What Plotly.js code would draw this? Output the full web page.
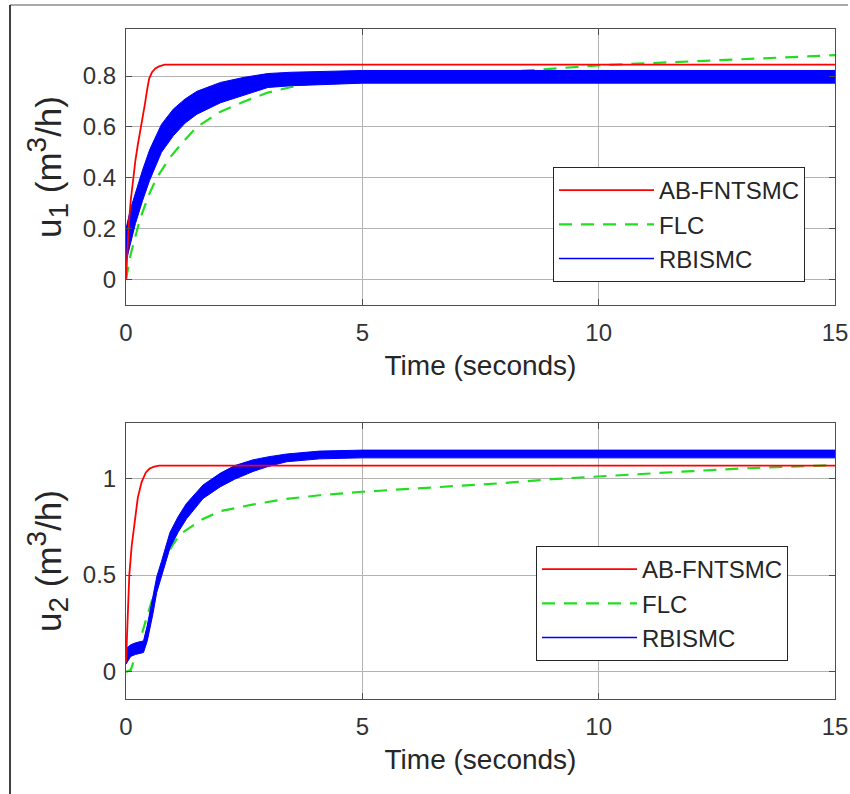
<!DOCTYPE html>
<html>
<head>
<meta charset="utf-8">
<script src="https://cdn.plot.ly/plotly-3.0.1.min.js"></script>
<style>html,body{margin:0;padding:0;background:#fff;}#chart{width:850px;height:794px;}</style>
</head>
<body>
<div id="chart"></div>
<script>
// ---------- Top panel: u1 ----------
const u1_red_t   = [0, 0.03, 0.06, 0.1, 0.15, 0.2, 0.25, 0.32, 0.4, 0.45, 0.49, 0.55, 0.62, 0.7, 0.82, 15];
const u1_red_v   = [0, 0.12, 0.22, 0.31, 0.4, 0.47, 0.53, 0.6, 0.69, 0.75, 0.79, 0.815, 0.83, 0.838, 0.845, 0.845];

const u1_flc_t   = [0, 0.1, 0.2, 0.3, 0.5, 0.65, 0.93, 1.2, 1.5, 2, 2.5, 3, 3.5, 4, 5, 7, 8.5, 10, 12.5, 15];
const u1_flc_v   = [0, 0.1, 0.17, 0.24, 0.34, 0.4, 0.48, 0.54, 0.6, 0.66, 0.70, 0.735, 0.757, 0.774, 0.785, 0.803, 0.822, 0.842, 0.862, 0.882];

const u1_rb_t    = [0, 0.1, 0.2, 0.35, 0.5, 0.75, 1.0, 1.25, 1.5, 2.0, 2.5, 3.0, 3.5, 4.0, 5, 15];
const u1_rb_lo   = [0.07, 0.15, 0.22, 0.31, 0.39, 0.5, 0.565, 0.615, 0.65, 0.695, 0.725, 0.755, 0.762, 0.767, 0.772, 0.772];
const u1_rb_hi   = [0.2, 0.28, 0.34, 0.43, 0.51, 0.61, 0.67, 0.71, 0.74, 0.775, 0.795, 0.81, 0.815, 0.818, 0.822, 0.822];

// ---------- Bottom panel: u2 ----------
const u2_red_t   = [0, 0.02, 0.04, 0.07, 0.12, 0.19, 0.25, 0.33, 0.42, 0.5, 0.6, 0.7, 15];
const u2_red_v   = [0.05, 0.2, 0.35, 0.5, 0.65, 0.8, 0.9, 0.98, 1.03, 1.05, 1.06, 1.065, 1.065];

const u2_flc_t   = [0, 0.1, 0.2, 0.3, 0.4, 0.5, 0.65, 0.86, 1.0, 1.14, 1.63, 2, 2.7, 3.4, 4.1, 5, 6, 7, 8, 9, 10, 11, 12, 13, 14, 15];
const u2_flc_v   = [0, 0.01, 0.08, 0.17, 0.25, 0.33, 0.45, 0.6, 0.66, 0.71, 0.79, 0.83, 0.865, 0.893, 0.912, 0.93, 0.945, 0.96, 0.975, 0.995, 1.01, 1.025, 1.037, 1.05, 1.06, 1.068];

const u2_rb_t    = [0, 0.1, 0.2, 0.37, 0.45, 0.57, 0.65, 0.75, 0.86, 0.93, 1.1, 1.28, 1.63, 1.99, 2.3, 2.69, 3.0, 3.4, 4.1, 5, 15];
const u2_rb_lo   = [0.04, 0.08, 0.09, 0.10, 0.16, 0.30, 0.41, 0.49, 0.58, 0.64, 0.72, 0.79, 0.895, 0.955, 0.995, 1.035, 1.06, 1.085, 1.10, 1.105, 1.105];
const u2_rb_hi   = [0.12, 0.14, 0.15, 0.16, 0.24, 0.38, 0.49, 0.57, 0.66, 0.72, 0.80, 0.87, 0.965, 1.025, 1.065, 1.095, 1.11, 1.125, 1.14, 1.145, 1.145];

const names = ['AB-FNTSMC', 'FLC', 'RBISMC'];
const xTicks = [0, 5, 10, 15];
const y1Ticks = [0, 0.2, 0.4, 0.6, 0.8];
const y2Ticks = [0, 0.5, 1];

const RED = '#ff0000', GREEN = '#22dd22', BLUE = '#0000ff';
const FONT = 'Liberation Sans, Arial, Helvetica, sans-serif';

function mid(lo, hi){ return lo.map((v,i)=> (v+hi[i])/2); }
function band(t, lo, hi){ return {x: t.concat(t.slice().reverse()), y: hi.concat(lo.slice().reverse())}; }

function panel(xa, ya, lg, redT, redV, flcT, flcV, rbT, rbLo, rbHi){
  const b = band(rbT, rbLo, rbHi);
  return [
    {x: flcT, y: flcV, xaxis: xa, yaxis: ya, legend: lg, name: names[1], legendrank: 2, mode: 'lines',
     line: {color: GREEN, width: 2.2, dash: '13px,9px'}, type: 'scatter'},
    {x: b.x, y: b.y, xaxis: xa, yaxis: ya, legend: lg, showlegend: false, mode: 'lines', fill: 'toself',
     fillcolor: BLUE, line: {color: BLUE, width: 1}, type: 'scatter', hoverinfo: 'skip'},
    {x: rbT, y: mid(rbLo, rbHi), xaxis: xa, yaxis: ya, legend: lg, name: names[2], legendrank: 3, mode: 'lines',
     line: {color: BLUE, width: 1.5}, type: 'scatter'},
    {x: redT, y: redV, xaxis: xa, yaxis: ya, legend: lg, name: names[0], legendrank: 1, mode: 'lines',
     line: {color: RED, width: 1.8}, type: 'scatter'}
  ];
}

const data = [].concat(
  panel('x', 'y', 'legend', u1_red_t, u1_red_v, u1_flc_t, u1_flc_v, u1_rb_t, u1_rb_lo, u1_rb_hi),
  panel('x2', 'y2', 'legend2', u2_red_t, u2_red_v, u2_flc_t, u2_flc_v, u2_rb_t, u2_rb_lo, u2_rb_hi)
);

const axisCommon = {
  showline: true, linecolor: '#4d4d4d', linewidth: 1, mirror: 'ticks',
  ticks: 'inside', ticklen: 6, tickcolor: '#4d4d4d',
  showgrid: true, gridcolor: '#b3b3b3', gridwidth: 1, zeroline: false,
  tickfont: {family: FONT, size: 24, color: '#333'}
};

const L = 126, R = 15, T = 29, B = 95;
const H = 794 - T - B;
const legendCommon = {
  bgcolor: '#ffffff', bordercolor: '#262626', borderwidth: 1,
  font: {family: FONT, size: 24, color: '#262626'},
  itemwidth: 95, xanchor: 'left', yanchor: 'top', traceorder: 'normal', itemclick: false
};

const yTitle1 = 'u<sub><span style="font-size:28px">1</span></sub> (m<sup><span style="font-size:28px">3</span></sup>/h)';
const yTitle2 = 'u<sub><span style="font-size:28px">2</span></sub> (m<sup><span style="font-size:28px">3</span></sup>/h)';

const layout = {
  width: 850, height: 794,
  margin: {l: L, r: R, t: T, b: B},
  paper_bgcolor: '#ffffff', plot_bgcolor: '#ffffff',
  font: {family: FONT, color: '#262626'},
  showlegend: true,
  xaxis: Object.assign({}, axisCommon, {domain: [0, 1], anchor: 'y', range: [0, 15], tickvals: xTicks,
    ticklabelstandoff: 6,
    title: {text: 'Time (seconds)', font: {family: FONT, size: 28, color: '#262626'}, standoff: 10}}),
  yaxis: Object.assign({}, axisCommon, {domain: [(699 - 305) / H, 1], anchor: 'x', range: [-0.1, 0.985], tickvals: y1Ticks,
    ticklabelstandoff: 4,
    title: {text: yTitle1, font: {family: FONT, size: 35, color: '#262626'}, standoff: 10}}),
  xaxis2: Object.assign({}, axisCommon, {domain: [0, 1], anchor: 'y2', range: [0, 15], tickvals: xTicks,
    ticklabelstandoff: 6,
    title: {text: 'Time (seconds)', font: {family: FONT, size: 28, color: '#262626'}, standoff: 10}}),
  yaxis2: Object.assign({}, axisCommon, {domain: [0, (699 - 423) / H], anchor: 'x2', range: [-0.14, 1.285], tickvals: y2Ticks,
    ticklabelstandoff: 4,
    title: {text: yTitle2, font: {family: FONT, size: 35, color: '#262626'}, standoff: 10}}),
  legend: Object.assign({}, legendCommon, {x: (553 - L) / 709, y: (699 - 167) / H}),
  legend2: Object.assign({}, legendCommon, {x: (536 - L) / 709, y: (699 - 546) / H}),
  shapes: [
    {type: 'line', xref: 'paper', yref: 'paper', x0: (10 - L) / 709, x1: (848 - L) / 709, y0: (699 - 5) / H, y1: (699 - 5) / H,
     line: {color: '#555', width: 1}},
    {type: 'line', xref: 'paper', yref: 'paper', x0: (10 - L) / 709, x1: (10 - L) / 709, y0: (699 - 5) / H, y1: (699 - 794) / H,
     line: {color: '#000', width: 1.5}}
  ]
};

Plotly.newPlot('chart', data, layout, {staticPlot: true, displayModeBar: false});
</script>
</body>
</html>
